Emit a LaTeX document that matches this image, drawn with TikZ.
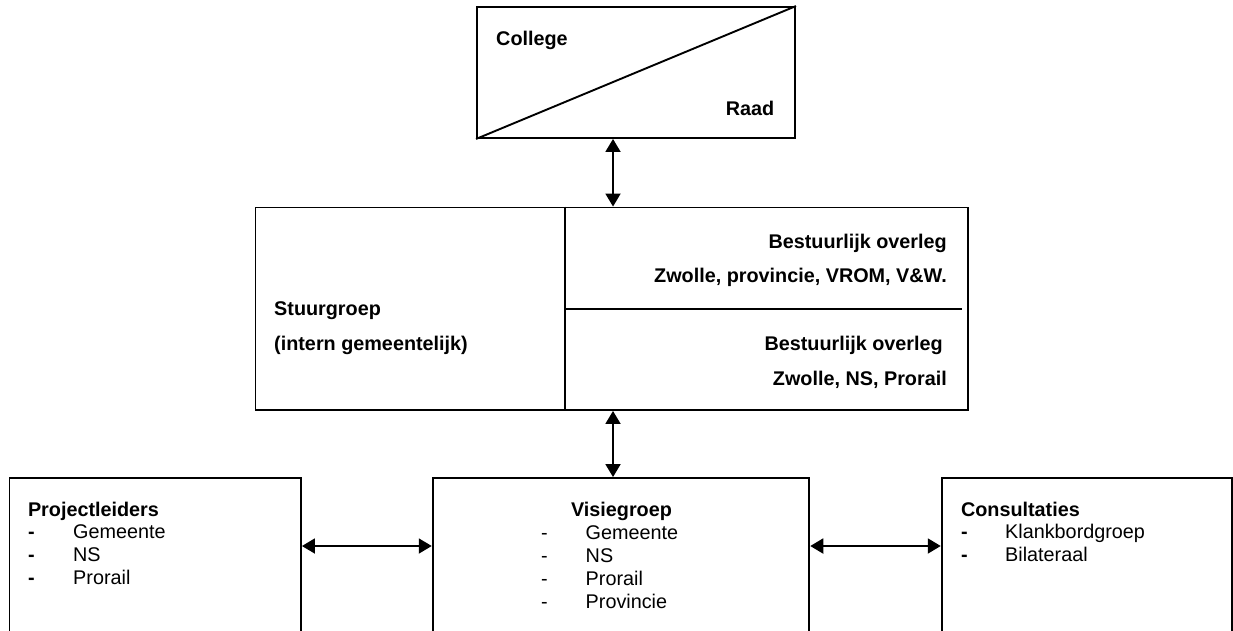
\documentclass[tikz,border=0pt]{standalone}
\usepackage{fontspec}
\setmainfont{Liberation Sans}
\usetikzlibrary{arrows.meta}
\begin{document}
\begin{tikzpicture}[x=1pt,y=-1pt,
  box/.style={draw, line width=1.9pt, rectangle, inner sep=0pt},
  txt/.style={inner sep=0pt, font=\fontsize{19.8}{23}\selectfont},
  btxt/.style={txt, font=\fontsize{19.8}{23}\selectfont\bfseries},
  link/.style={line width=1.9pt, {Triangle[width=15pt,length=13pt]}-{Triangle[width=15pt,length=13pt]}}]
\useasboundingbox (0,0) rectangle (1233,630);
\clip (0,0) rectangle (1233,630);
% boxes
\node[box, minimum width=318pt, minimum height=131pt] (top) at (636,72.5) {};
\node[box, minimum width=712.5pt, minimum height=202.5pt] (mid) at (611.75,308.75) {};
\node[box, minimum width=291.5pt, minimum height=260pt] (pl) at (155.25,608) {};
\node[box, minimum width=376.6pt, minimum height=260pt] (vis) at (621,608) {};
\node[box, minimum width=290.6pt, minimum height=260pt] (con) at (1087,608) {};
% inner lines
\draw[line width=1.9pt] (top.south west) -- (top.north east);
\coordinate (dv) at (565,0);
\draw[line width=1.9pt] (mid.north -| dv) -- (mid.south -| dv);
\coordinate (hl) at (962,309);
\draw[line width=1.9pt] (hl -| dv) -- (hl);
% connectors
\coordinate (ax) at (613,0);
\coordinate (ay) at (0,546);
\draw[link] (top.south -| ax) -- (mid.north -| ax);
\draw[link] (mid.south -| ax) -- (vis.north -| ax);
\draw[link] (pl.east |- ay) -- (vis.west |- ay);
\draw[link] (vis.east |- ay) -- (con.west |- ay);
% top texts
\node[btxt, anchor=base west] (college) at (496,45.7) {College};
\node[btxt, anchor=base east] (raad) at (774.5,115) {Raad};
% middle texts
\node[btxt, anchor=base west] (sg1) at (274,315.7) {Stuurgroep};
\node[btxt, anchor=base west] (sg2) at (274,350) {(intern gemeentelijk)};
\node[btxt, anchor=base east] (bo1) at (947,248) {Bestuurlijk overleg};
\node[btxt, anchor=base east] (bo2) at (947,282) {Zwolle, provincie, VROM, V\&W.};
\node[btxt, anchor=base east] (bo3) at (943,350) {Bestuurlijk overleg};
\node[btxt, anchor=base east] (bo4) at (947,385) {Zwolle, NS, Prorail};
% Projectleiders
\node[btxt, anchor=base west] (plt) at (27.8,516) {Projectleiders};
\foreach \t [count=\i] in {Gemeente, NS, Prorail} {
  \node[btxt, anchor=base west] (pld\i) at (28,{516+22.8*\i}) {-};
  \node[txt, anchor=base west] (pli\i) at (73,{516+22.8*\i}) {\t};
}
% Visiegroep
\node[btxt, anchor=base] (vist) at (621.5,516) {Visiegroep};
\foreach \t [count=\i] in {Gemeente, NS, Prorail, Provincie} {
  \node[txt, anchor=base west] (visd\i) at (541,{516+23.2*\i}) {-};
  \node[txt, anchor=base west] (visi\i) at (585.5,{516+23.2*\i}) {\t};
}
% Consultaties
\node[btxt, anchor=base west] (cont) at (960.8,516) {Consultaties};
\foreach \t [count=\i] in {Klankbordgroep, Bilateraal} {
  \node[btxt, anchor=base west] (cond\i) at (961,{516+22.8*\i}) {-};
  \node[txt, anchor=base west] (coni\i) at (1005,{516+22.8*\i}) {\t};
}
\end{tikzpicture}
\end{document}
